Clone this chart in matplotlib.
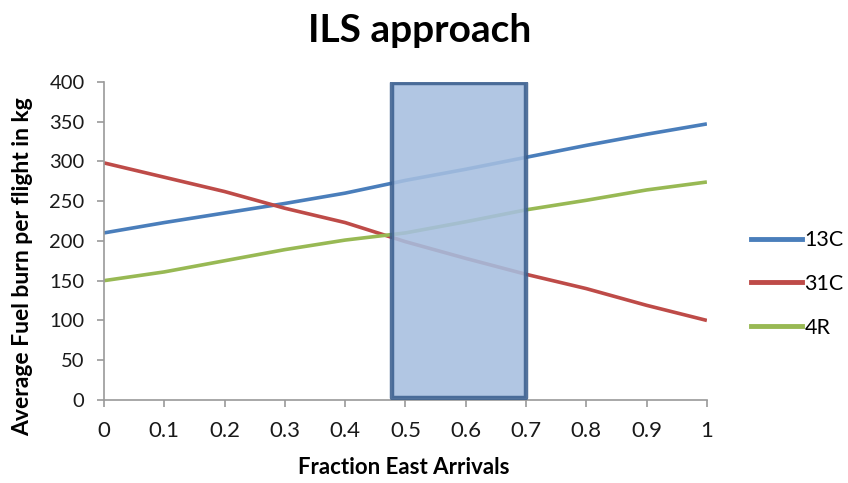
import matplotlib
matplotlib.use("Agg")
import matplotlib.pyplot as plt
from matplotlib.patches import Rectangle
from matplotlib.lines import Line2D

plt.rcParams['font.family'] = ['Lato', 'DejaVu Sans']

fraction = [0, 0.1, 0.2, 0.3, 0.4, 0.5, 0.6, 0.7, 0.8, 0.9, 1.0]
burn_13c = [210, 223, 235, 247, 260, 276, 290, 305, 320, 334, 347]
burn_31c = [298, 280, 262, 241, 223, 199, 178, 158, 140, 119, 100]
burn_4r = [150, 161, 175, 189, 201, 210, 224, 239, 251, 264, 274]
series_names = ['13C', '31C', '4R']
series_colors = ['#4A7EBB', '#BE4B48', '#98B954']

band_start, band_end = 0.478, 0.70
band_low, band_high = 3, 398

x_ticks = [0, 0.1, 0.2, 0.3, 0.4, 0.5, 0.6, 0.7, 0.8, 0.9, 1]
x_tick_labels = ['0', '0.1', '0.2', '0.3', '0.4', '0.5', '0.6', '0.7', '0.8', '0.9', '1']
y_ticks = [0, 50, 100, 150, 200, 250, 300, 350, 400]

fig = plt.figure(figsize=(8.48, 4.83), dpi=100)
ax = fig.add_axes([0.1226, 0.1718, 0.711, 0.659])

for vals, color in zip([burn_13c, burn_31c, burn_4r], series_colors):
    ax.plot(fraction, vals, color=color, lw=2.6, solid_capstyle='butt',
            solid_joinstyle='round', zorder=2)

ax.add_patch(Rectangle((band_start, band_low), band_end - band_start, band_high - band_low,
                       facecolor='#A6BFE0', alpha=0.88, edgecolor='#3B5F8E',
                       lw=3.2, joinstyle='round', zorder=3))

ax.set_xlim(0, 1)
ax.set_ylim(0, 400)
ax.set_xticks(x_ticks)
ax.set_xticklabels(x_tick_labels)
ax.set_yticks(y_ticks)
for s in ['top', 'right']:
    ax.spines[s].set_visible(False)
for s in ['left', 'bottom']:
    ax.spines[s].set_color('#9A9A9A')
    ax.spines[s].set_linewidth(1.2)
ax.tick_params(axis='both', colors='#9A9A9A', length=5, width=1.2,
               labelcolor='#1a1a1a', direction='out')
ax.tick_params(axis='x', pad=10, labelsize=16)
ax.tick_params(axis='y', pad=9, labelsize=14.5)

fig.text(0.495, 0.913, 'ILS approach', ha='center', va='baseline', fontsize=28,
         fontweight='bold')
fig.text(0.476, 0.033, 'Fraction East Arrivals', ha='center', va='center',
         fontsize=16, fontweight='bold')
fig.text(0.027, 0.447, 'Average Fuel burn per flight in kg', rotation=90, ha='center',
         va='center', fontsize=16.5, fontweight='bold')

handles = [Line2D([0], [0], color=c, lw=3.5) for c in series_colors]
fig.legend(handles, series_names, loc='center left', bbox_to_anchor=(0.8625, 0.412),
           frameon=False, fontsize=15.5, handlelength=2.4, handletextpad=0.1,
           labelspacing=1.1, borderpad=0.4)

fig.savefig('out.png', dpi=100)
